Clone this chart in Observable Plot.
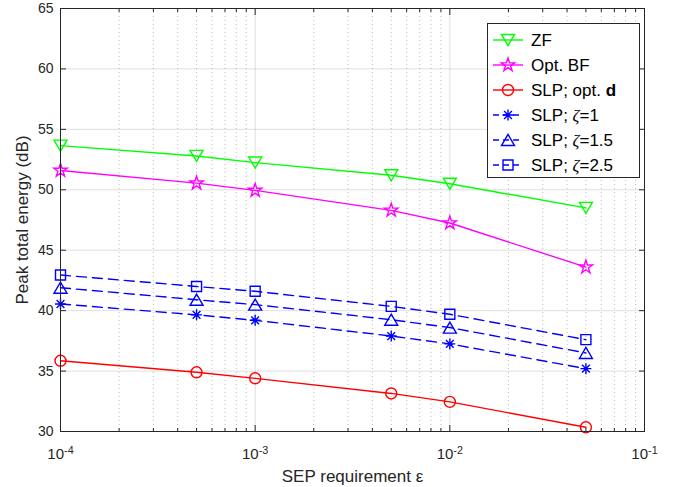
<!DOCTYPE html>
<html><head><meta charset="utf-8">
<script src="https://cdn.jsdelivr.net/npm/d3@7"></script>
<script src="https://cdn.jsdelivr.net/npm/@observablehq/plot@0.6"></script>
<style>
body{margin:0;background:#fff;}
#wrap{position:relative;width:678px;height:487px;font-family:"Liberation Sans",Arial,sans-serif;}
#legend{position:absolute;left:487px;top:23px;}
</style></head><body><div id="wrap"></div>
<script>
// ---- data ----
const sep = [1e-4, 5e-4, 1e-3, 5e-3, 1e-2, 5e-2];
const zf = [53.65, 52.8, 52.25, 51.2, 50.5, 48.5];
const optBF = [51.6, 50.55, 49.95, 48.3, 47.25, 43.6];
const slpOptD = [35.85, 34.9, 34.4, 33.15, 32.45, 30.35];
const slpZeta1 = [40.55, 39.65, 39.2, 37.9, 37.25, 35.2];
const slpZeta15 = [41.9, 40.9, 40.5, 39.25, 38.6, 36.5];
const slpZeta25 = [42.95, 42.0, 41.6, 40.35, 39.7, 37.6];
const seriesNames = ["ZF", "Opt. BF", "SLP; opt. d", "SLP; ζ=1", "SLP; ζ=1.5", "SLP; ζ=2.5"];
const xMajorTicks = [1e-4, 1e-3, 1e-2, 1e-1];
const xMinorTicks = [1e-4, 1e-3, 1e-2].flatMap(d => [2,3,4,5,6,7,8,9].map(m => m * d));
const yTicks = [30, 35, 40, 45, 50, 55, 60, 65];
const xLabel = "SEP requirement ε";
const yLabel = "Peak total energy (dB)";

// ---- symbols ----
const sym = fn => ({draw(c, size){ fn(c, Math.sqrt(size / Math.PI)); }});
const triDown = sym((c,r)=>{c.moveTo(-r,-r*0.85);c.lineTo(r,-r*0.85);c.lineTo(0,r*0.85);c.closePath();});
const triUp = sym((c,r)=>{c.moveTo(-r,r*0.85);c.lineTo(r,r*0.85);c.lineTo(0,-r*0.85);c.closePath();});
const square = sym((c,r)=>{c.rect(-r,-r,2*r,2*r);});
const circle = sym((c,r)=>{c.moveTo(r,0);c.arc(0,0,r,0,2*Math.PI);});
const star = sym((c,r)=>{const ri=r*0.382;for(let k=0;k<10;k++){const a=-Math.PI/2+k*Math.PI/5;const rr=k%2?ri:r;const x=rr*Math.cos(a),y=rr*Math.sin(a);k?c.lineTo(x,y):c.moveTo(x,y);}c.closePath();});
const asterisk = sym((c,r)=>{c.moveTo(-r,0);c.lineTo(r,0);c.moveTo(0,-r);c.lineTo(0,r);const d=r*0.707;c.moveTo(-d,-d);c.lineTo(d,d);c.moveTo(-d,d);c.lineTo(d,-d);});

const series = [
  {name: seriesNames[0], values: zf, color: "#00ff00", dash: null, symbol: triDown, r: 6.5},
  {name: seriesNames[1], values: optBF, color: "#ff00ff", dash: null, symbol: star, r: 7},
  {name: seriesNames[2], values: slpOptD, color: "#ff0000", dash: null, symbol: circle, r: 5.5},
  {name: seriesNames[3], values: slpZeta1, color: "#0000ff", dash: "10,6", symbol: asterisk, r: 5.5},
  {name: seriesNames[4], values: slpZeta15, color: "#0000ff", dash: "10,6", symbol: triUp, r: 6.5},
  {name: seriesNames[5], values: slpZeta25, color: "#0000ff", dash: "10,6", symbol: square, r: 5}
];
const table = s => sep.map((x, i) => ({x, y: s.values[i], series: s.name}));

const ink = "#262626";
const tickFont = 14;
const xTickFont = 15;
const labelFont = 17;
const seriesMarks = series.flatMap(s => [
  Plot.line(table(s), {x: "x", y: "y", stroke: s.color, strokeWidth: 1.4, strokeDasharray: s.dash ?? undefined}),
  Plot.dot(table(s), {x: "x", y: "y", symbol: s.symbol, r: s.r, stroke: s.color, fill: "none", strokeWidth: 1.4})
]);

const plot = Plot.plot({
  width: 678, height: 487,
  marginLeft: 60, marginRight: 34, marginTop: 8, marginBottom: 56,
  style: {fontFamily: "'Liberation Sans', Arial, sans-serif", background: "white", color: ink},
  x: {type: "log", domain: [1e-4, 1e-1]},
  y: {domain: [30, 65]},
  marks: [
    Plot.gridX(xMinorTicks, {stroke: ink, strokeOpacity: 0.3, strokeDasharray: "1,3"}),
    Plot.gridX(xMajorTicks, {stroke: ink, strokeOpacity: 0.15}),
    Plot.gridY(yTicks, {stroke: ink, strokeOpacity: 0.15}),
    ...seriesMarks,
    Plot.frame({stroke: ink}),
    Plot.axisX(xMajorTicks, {anchor: "bottom", tickSize: -6, fill: "none", stroke: ink, label: null}),
    Plot.axisX(xMajorTicks, {anchor: "top", tickSize: -6, fill: "none", stroke: ink, label: null}),
    Plot.axisX(xMinorTicks, {anchor: "bottom", tickSize: -3, fill: "none", stroke: ink, label: null}),
    Plot.axisX(xMinorTicks, {anchor: "top", tickSize: -3, fill: "none", stroke: ink, label: null}),
    Plot.axisY(yTicks, {anchor: "left", tickSize: -6, fill: "none", stroke: ink, label: null}),
    Plot.axisY(yTicks, {anchor: "right", tickSize: -6, fill: "none", stroke: ink, label: null}),
    Plot.axisX(xMajorTicks, {anchor: "bottom", tickSize: 0, tickPadding: 17, fontSize: xTickFont, fill: ink,
      tickFormat: d => "10^" + Math.round(Math.log10(d)), label: null}),
    Plot.axisX({anchor: "bottom", ticks: [], tickSize: 0, fontSize: labelFont, fill: ink,
      label: xLabel, labelAnchor: "center", labelOffset: 50, labelArrow: "none"}),
    Plot.axisY(yTicks, {anchor: "left", tickSize: 0, tickPadding: 7, fontSize: tickFont, fill: ink, label: null}),
    Plot.axisY({anchor: "left", ticks: [], tickSize: 0, fontSize: labelFont, fill: ink,
      label: yLabel, labelAnchor: "center", labelOffset: 45, labelArrow: "none"})
  ]
});

// superscripts on the log tick labels
d3.select(plot).selectAll('g[aria-label="x-axis tick label"] text').each(function() {
  const t = this.textContent;
  const m = /^10\^(-?\d+)$/.exec(t);
  if (!m) return;
  this.textContent = "";
  const sel = d3.select(this);
  sel.append("tspan").text("10");
  sel.append("tspan").attr("dy", "-0.5em").attr("font-size", "0.72em").text(m[1]);
});

const wrap = document.getElementById("wrap");
wrap.appendChild(plot);

// ---- legend ----
const lw = 152, lh = 154;
const legend = d3.create("svg").attr("id", "legend").attr("width", lw + 1).attr("height", lh + 1)
  .style("font-family", "'Liberation Sans', Arial, sans-serif");
legend.append("rect").attr("x", 0.5).attr("y", 0.5).attr("width", lw).attr("height", lh)
  .attr("fill", "white").attr("stroke", ink);
series.forEach((s, i) => {
  const g = legend.append("g").attr("transform", `translate(0,${17 + 25 * i})`);
  g.append("line").attr("x1", 6).attr("x2", 36).attr("stroke", s.color).attr("stroke-width", 1.4)
    .attr("stroke-dasharray", s.dash ? "6,4" : null);
  g.append("path").attr("transform", "translate(21,0)")
    .attr("d", d3.symbol(s.symbol, Math.PI * s.r * s.r)())
    .attr("fill", "none").attr("stroke", s.color).attr("stroke-width", 1.4);
  const t = g.append("text").attr("x", 44).attr("dy", "0.36em").attr("font-size", 17).attr("fill", "#000");
  const m = /^(SLP; )ζ(=.*)$/.exec(s.name);
  if (m) {
    t.append("tspan").text(m[1]);
    t.append("tspan").attr("font-style", "italic").attr("font-family", "'Liberation Serif', serif").text("ζ");
    t.append("tspan").text(m[2]);
  } else if (s.name.endsWith(" d")) {
    t.append("tspan").text(s.name.slice(0, -1));
    t.append("tspan").attr("font-weight", "bold").text("d");
  } else {
    t.text(s.name);
  }
});
wrap.appendChild(legend.node());
</script>
</body></html>
